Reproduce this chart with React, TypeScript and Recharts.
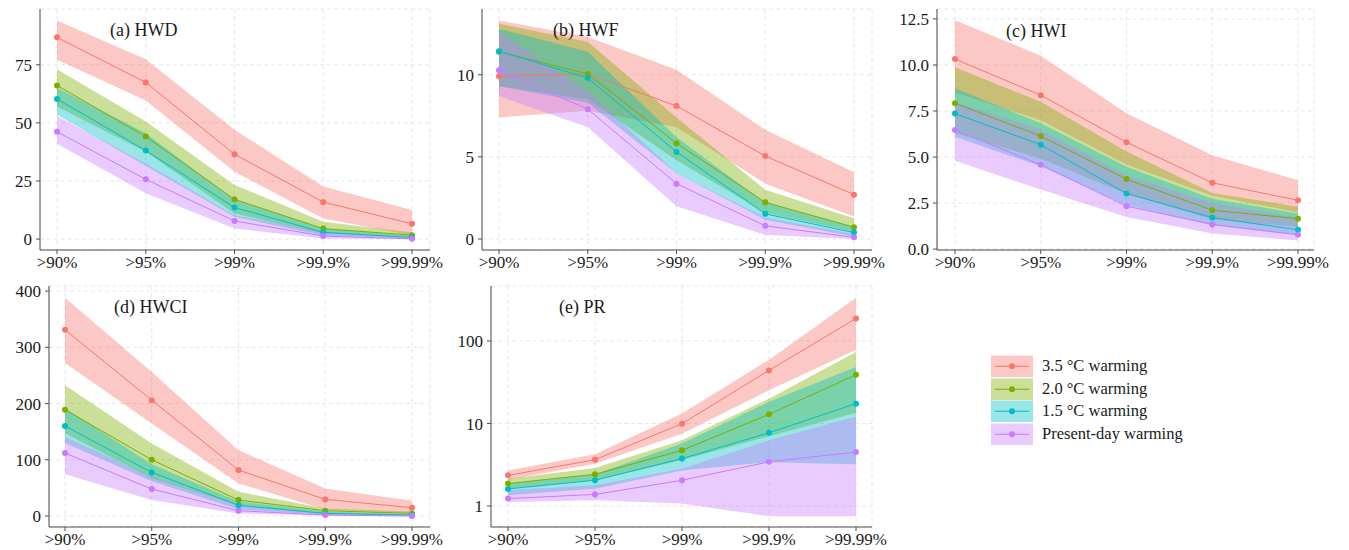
import React from 'react';
import { ComposedChart, Area, Line, XAxis, YAxis, CartesianGrid } from 'recharts';

// percentile thresholds on the x axis
const categories = ['>90%', '>95%', '>99%', '>99.9%', '>99.99%'];
const seriesNames = ['3.5 °C warming', '2.0 °C warming', '1.5 °C warming', 'Present-day warming'];
const seriesColors = ['#F8766D', '#7CAE00', '#00BFC4', '#C77CFF'];

// each array: [3.5, 2.0, 1.5, present-day], values per category
const hwdMean = [[86.8, 67.4, 36.5, 15.9, 6.6], [66.1, 44.1, 17.1, 4.5, 1.7], [60.3, 38.1, 13.6, 2.9, 0.7], [46.2, 25.7, 7.8, 1.3, 0.1]];
const hwdLow = [[77.2, 59.6, 29, 8.9, 1.7], [57, 37.6, 11, 2.4, 0.8], [53.5, 31.5, 9.6, 1.5, 0.2], [41, 19.7, 4.6, 0.2, 0]];
const hwdHigh = [[94.1, 77.4, 47, 22.6, 12.5], [73.1, 50.6, 23.3, 7.5, 2.8], [65, 45.5, 16.8, 4.5, 1.5], [53, 32.5, 10.3, 3, 0.8]];

const hwfMean = [[9.9, 10.05, 8.1, 5.05, 2.7], [11.4, 10.05, 5.83, 2.23, 0.72], [11.43, 9.8, 5.3, 1.53, 0.39], [10.27, 7.9, 3.37, 0.8, 0.1]];
const hwfLow = [[7.4, 7.8, 6.8, 3.37, 1.37], [9.3, 8.5, 4.8, 1.6, 0.45], [9.3, 8.3, 4.0, 1.17, 0.15], [8.7, 6.8, 2.0, 0.25, 0]];
const hwfHigh = [[13.3, 12.3, 10.3, 6.65, 4.07], [13.1, 12.0, 7.4, 3.0, 1.27], [12.8, 11.4, 6.2, 2.2, 0.75], [12.6, 9.0, 4.0, 1.3, 0.3]];

const hwiMean = [[10.32, 8.36, 5.8, 3.6, 2.65], [7.92, 6.14, 3.8, 2.11, 1.65], [7.36, 5.67, 3.02, 1.71, 1.05], [6.47, 4.58, 2.33, 1.34, 0.78]];
const hwiLow = [[8.5, 7.0, 4.6, 2.9, 2.0], [6.3, 4.9, 3.0, 1.6, 1.2], [6.1, 4.5, 2.4, 1.3, 0.75], [4.8, 3.23, 1.74, 0.84, 0.47]];
const hwiHigh = [[12.43, 10.5, 7.38, 5.09, 3.74], [9.87, 8.0, 5.3, 3.05, 2.3], [8.74, 6.83, 4.47, 2.74, 1.93], [8.0, 6.5, 4.0, 2.5, 1.7]];

const hwciMean = [[331, 206, 81.7, 29.6, 14.8], [189, 100, 28.4, 9.5, 4.7], [160, 77.5, 19, 4.7, 1.8], [112, 48, 9.5, 1.8, 0]];
const hwciLow = [[272, 164.5, 58, 11.8, 4.7], [147, 67, 19, 3.5, 2], [130, 62, 12, 2, 0.5], [74.5, 28.4, 4.7, 0.5, 0]];
const hwciHigh = [[388, 256, 117, 49, 27], [232.5, 129, 43, 13.6, 8], [192, 92, 26, 8, 3], [141, 70, 19.5, 5, 2]];

const prMean = [[2.35, 3.64, 9.95, 44, 187], [1.87, 2.42, 4.73, 12.9, 39], [1.61, 2.05, 3.75, 7.7, 17.4], [1.23, 1.38, 2.05, 3.43, 4.51]];
const prLow = [[2.08, 3.26, 7.5, 25.2, 78.5], [1.62, 2.05, 3.6, 7.0, 13.5], [1.35, 1.62, 2.7, 3.4, 3.2], [1.12, 1.17, 1.07, 0.75, 0.75]];
const prHigh = [[2.7, 4.23, 13.2, 59.4, 335], [2.14, 2.89, 6.25, 20, 73.6], [1.86, 2.42, 5.7, 18.3, 48.4], [1.55, 1.78, 2.83, 6.25, 12.1]];

const prMinorTicks = [0.6, 0.7, 0.8, 0.9, 2, 3, 4, 5, 6, 7, 8, 9, 20, 30, 40, 50, 60, 70, 80, 90, 200, 300, 400];

const FONT = "'Liberation Serif', 'DejaVu Serif', serif";
const BORDER = '#4d4d4d';
const tickStyle = { fill: '#1a1a1a', fontSize: 17, style: { fontFamily: FONT } };

const buildRows = (mean: number[][], low: number[][], high: number[][]) =>
  categories.map((cat, i) => {
    const row: any = { cat };
    mean.forEach((s, k) => {
      row[`m${k}`] = s[i];
      row[`r${k}`] = [low[k][i], high[k][i]];
    });
    return row;
  });

const NoTick = () => <g />;

const Panel = ({ title, mean, low, high, ticks, domain, yWidth, box, margin, pad, log, fmt, titlePos }: any) => {
  const rows = buildRows(mean, low, high);
  return (
    <div style={{ position: 'absolute', left: box.left, top: box.top }}>
      <ComposedChart width={box.width} height={box.height} data={rows} margin={margin} style={{ fontFamily: FONT }}>
        <CartesianGrid stroke="#e6e6e6" strokeDasharray="4 3" />
        <XAxis
          dataKey="cat"
          scale="point"
          padding={pad}
          height={23}
          interval={0}
          tick={tickStyle}
          tickSize={4}
          tickMargin={2}
          tickLine={{ stroke: BORDER }}
          axisLine={{ stroke: BORDER }}
        />
        <XAxis xAxisId="top" orientation="top" dataKey="cat" height={0} tick={false} tickLine={false} axisLine={{ stroke: BORDER }} />
        <YAxis
          type="number"
          scale={log ? 'log' : 'linear'}
          domain={domain}
          ticks={ticks}
          allowDataOverflow
          width={yWidth}
          interval={0}
          tick={tickStyle}
          tickFormatter={fmt}
          tickSize={4}
          tickMargin={4}
          tickLine={{ stroke: BORDER }}
          axisLine={{ stroke: BORDER }}
        />
        <YAxis yAxisId="right" orientation="right" type="number" domain={[0, 1]} width={0} tick={false} tickLine={false} axisLine={{ stroke: BORDER }} />
        {log && (
          <YAxis yAxisId="logMajor" type="number" scale="log" domain={domain} allowDataOverflow ticks={ticks} interval={0}
            mirror width={0} tick={NoTick} tickSize={8} axisLine={false} tickLine={{ stroke: '#333' }} />
        )}
        {log && (
          <YAxis yAxisId="logMinor" type="number" scale="log" domain={domain} allowDataOverflow ticks={prMinorTicks} interval={0}
            mirror width={0} tick={NoTick} tickSize={4} axisLine={false} tickLine={{ stroke: '#333' }} />
        )}
        {seriesColors.map((c, k) => (
          <Area
            key={`band-${k}`}
            type="linear"
            dataKey={`r${k}`}
            stroke="none"
            fill={c}
            fillOpacity={0.4}
            dot={false}
            activeDot={false}
            isAnimationActive={false}
          />
        ))}
        {seriesColors.map((c, k) => (
          <Line
            key={`line-${k}`}
            type="linear"
            dataKey={`m${k}`}
            stroke={c}
            strokeWidth={1}
            dot={{ r: 3, fill: c, stroke: c, strokeWidth: 0 }}
            activeDot={false}
            isAnimationActive={false}
          />
        ))}
      </ComposedChart>
      <div
        style={{
          position: 'absolute',
          left: titlePos.x,
          top: titlePos.y,
          fontFamily: FONT,
          fontSize: 18,
          lineHeight: '18px',
          color: '#1a1a1a',
          whiteSpace: 'nowrap',
        }}
      >
        {title}
      </div>
    </div>
  );
};

const Legend = () => (
  <div style={{ position: 'absolute', left: 991, top: 355, fontFamily: FONT }}>
    {seriesNames.map((name, k) => (
      <div key={name} style={{ display: 'flex', alignItems: 'center', height: 22.5 }}>
        <svg width={42} height={22.5}>
          <rect x={0} y={0.5} width={42} height={21.5} fill={seriesColors[k]} fillOpacity={0.4} />
          <line x1={4} x2={38} y1={11.25} y2={11.25} stroke={seriesColors[k]} strokeWidth={1} />
          <circle cx={21} cy={11.25} r={3} fill={seriesColors[k]} />
        </svg>
        <span style={{ marginLeft: 9, fontSize: 16.5, color: '#1a1a1a', whiteSpace: 'nowrap' }}>{name}</span>
      </div>
    ))}
  </div>
);

const fmtOne = (v: number) => v.toFixed(1);
const fmtInt = (v: number) => String(v);

export default function App() {
  return (
    <div style={{ position: 'absolute', left: 0, top: 0, width: 1349, height: 550, overflow: 'hidden', background: '#fff', fontFamily: FONT }}>
      <Panel
        title="(a) HWD"
        mean={hwdMean} low={hwdLow} high={hwdHigh}
        ticks={[0, 25, 50, 75]} domain={[-4.7, 99]} fmt={fmtInt}
        yWidth={40}
        box={{ left: 0, top: 0, width: 450, height: 275 }}
        margin={{ top: 9, right: 20, bottom: 2, left: 0 }}
        pad={{ left: 17, right: 18 }}
        titlePos={{ x: 110, y: 21 }}
      />
      <Panel
        title="(b) HWF"
        mean={hwfMean} low={hwfLow} high={hwfHigh}
        ticks={[0, 5, 10]} domain={[-0.67, 14.0]} fmt={fmtInt}
        yWidth={42}
        box={{ left: 440, top: 0, width: 450, height: 275 }}
        margin={{ top: 9, right: 18, bottom: 2, left: 0 }}
        pad={{ left: 17, right: 18 }}
        titlePos={{ x: 113, y: 21 }}
      />
      <Panel
        title="(c) HWI"
        mean={hwiMean} low={hwiLow} high={hwiHigh}
        ticks={[0, 2.5, 5, 7.5, 10, 12.5]} domain={[-0.05, 13.04]} fmt={fmtOne}
        yWidth={47}
        box={{ left: 890, top: 0, width: 459, height: 275 }}
        margin={{ top: 9, right: 35, bottom: 2, left: 0 }}
        pad={{ left: 18, right: 16 }}
        titlePos={{ x: 116, y: 22 }}
      />
      <Panel
        title="(d) HWCI"
        mean={hwciMean} low={hwciLow} high={hwciHigh}
        ticks={[0, 100, 200, 300, 400]} domain={[-19.5, 409]} fmt={fmtInt}
        yWidth={49}
        box={{ left: 0, top: 275, width: 450, height: 275 }}
        margin={{ top: 11, right: 20, bottom: 0, left: 0 }}
        pad={{ left: 16, right: 18 }}
        titlePos={{ x: 114, y: 23 }}
      />
      <Panel
        title="(e) PR"
        mean={prMean} low={prLow} high={prHigh}
        ticks={[1, 10, 100]} domain={[0.556, 464]} fmt={fmtInt} log
        yWidth={51}
        box={{ left: 440, top: 275, width: 450, height: 275 }}
        margin={{ top: 11, right: 18, bottom: 0, left: 0 }}
        pad={{ left: 17, right: 16 }}
        titlePos={{ x: 119, y: 23 }}
      />
      <Legend />
    </div>
  );
}
